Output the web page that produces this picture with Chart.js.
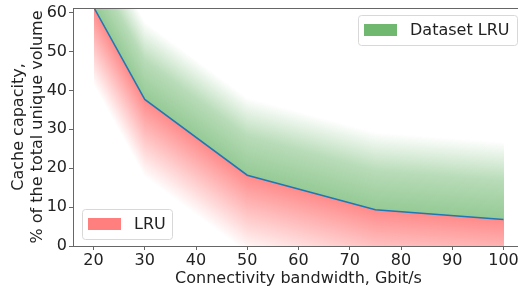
<!DOCTYPE html>
<html>
<head>
<meta charset="utf-8">
<script src="https://cdn.jsdelivr.net/npm/chart.js@4.4.1/dist/chart.umd.min.js"></script>
<style>
  html, body { margin: 0; padding: 0; background: #fff; overflow: hidden; }
  #wrap { width: 518px; height: 288px; overflow: hidden; }
</style>
</head>
<body>
<div id="wrap"><canvas id="chart" width="528" height="288"></canvas></div>
<script>
// data
const bandwidth = [20, 30, 50, 75, 100];
const lruCapacity = [61.5, 37.7, 18.2, 9.3, 6.8];
const xTicks = [20, 30, 40, 50, 60, 70, 80, 90, 100];
const yTicks = [0, 10, 20, 30, 40, 50, 60];
const upperLabel = 'Dataset LRU';
const lowerLabel = 'LRU';

const FONT = 'DejaVu Sans';
const AXIS = '#666';
const TEXT = '#222';
const FADE = 20; // y units over which the shading fades to white

// gradient bands above (green) and below (red) the LRU line
const shading = {
  id: 'shading',
  beforeDatasetsDraw(chart) {
    const pts = chart.getDatasetMeta(0).data;
    const { ctx, chartArea: a, scales: { y } } = chart;
    const h = y.getPixelForValue(0) - y.getPixelForValue(FADE);
    ctx.save();
    ctx.beginPath();
    ctx.rect(a.left, a.top, a.right - a.left, a.bottom - a.top);
    ctx.clip();
    const x0 = Math.round(pts[0].x), x1 = Math.round(pts[pts.length - 1].x);
    let seg = 0;
    for (let px = x0; px < x1; px++) {
      const cx = px + 0.5;
      while (seg < pts.length - 2 && cx > pts[seg + 1].x) seg++;
      const p = pts[seg], q = pts[seg + 1];
      const ly = p.y + (cx - p.x) / (q.x - p.x) * (q.y - p.y);

      const g = ctx.createLinearGradient(0, ly, 0, ly - h);
      g.addColorStop(0, 'rgba(0,128,0,0.42)');
      g.addColorStop(0.5, 'rgba(0,128,0,0.28)');
      g.addColorStop(1, 'rgba(0,128,0,0)');
      ctx.fillStyle = g;
      ctx.fillRect(px, ly - h, 1, h);

      const r = ctx.createLinearGradient(0, ly, 0, ly + h);
      r.addColorStop(0, 'rgba(255,0,0,0.46)');
      r.addColorStop(1, 'rgba(255,0,0,0)');
      ctx.fillStyle = r;
      ctx.fillRect(px, ly, 1, h);
    }
    ctx.restore();
  }
};

function drawLegend(ctx, x, y, w, h, label, color) {
  ctx.save();
  ctx.beginPath();
  ctx.roundRect(x + 0.5, y + 0.5, w, h, 3);
  ctx.fillStyle = 'rgba(255,255,255,0.8)';
  ctx.fill();
  ctx.strokeStyle = '#d8d8d8';
  ctx.lineWidth = 1;
  ctx.stroke();
  ctx.fillStyle = color;
  ctx.fillRect(x + 6, y + h / 2 - 6, 33, 12);
  ctx.fillStyle = TEXT;
  ctx.font = '16px "' + FONT + '"';
  ctx.textBaseline = 'middle';
  ctx.fillText(label, x + 52, y + h / 2 + 1);
  ctx.restore();
}

const extras = {
  id: 'extras',
  afterDraw(chart) {
    const { ctx, chartArea: a } = chart;
    ctx.save();
    ctx.strokeStyle = AXIS;
    ctx.lineWidth = 1;
    ctx.beginPath();
    ctx.moveTo(a.left, a.top + 0.5);
    ctx.lineTo(a.right, a.top + 0.5);
    ctx.stroke();
    ctx.restore();
    drawLegend(ctx, 358, 15, 159, 30, upperLabel, 'rgba(0,128,0,0.56)');
    drawLegend(ctx, 82, 209, 90, 30, lowerLabel, 'rgba(255,0,0,0.5)');
  }
};

const tickFont = { family: FONT, size: 16 };

new Chart(document.getElementById('chart'), {
  type: 'line',
  data: {
    datasets: [{
      label: lowerLabel,
      data: bandwidth.map((b, i) => ({ x: b, y: lruCapacity[i] })),
      borderColor: '#1f77b4',
      borderWidth: 1.5,
      pointRadius: 0,
      fill: false,
      tension: 0
    }]
  },
  options: {
    responsive: false,
    animation: false,
    layout: { padding: { top: 8, right: 4, left: 0, bottom: 0 } },
    plugins: { legend: { display: false }, tooltip: { enabled: false } },
    scales: {
      x: {
        type: 'linear',
        min: 16,
        max: 104,
        afterBuildTicks: s => { s.ticks = xTicks.map(v => ({ value: v })); },
        afterFit: s => { s.height = 42; s.paddingLeft = 0; s.paddingRight = 0; },
        grid: { drawOnChartArea: false, drawTicks: true, tickLength: 4, color: AXIS },
        border: { color: AXIS, width: 1 },
        ticks: { font: tickFont, color: TEXT, padding: 1, maxRotation: 0, autoSkip: false },
        title: {
          display: true, text: 'Connectivity bandwidth, Gbit/s',
          font: tickFont, color: TEXT, padding: { top: 0, bottom: 0 }
        }
      },
      y: {
        min: 0,
        max: 61.2,
        afterBuildTicks: s => { s.ticks = yTicks.map(v => ({ value: v })); },
        afterFit: s => { s.width = 73; s.paddingTop = 0; s.paddingBottom = 0; },
        grid: { drawOnChartArea: false, drawTicks: true, tickLength: 4, color: AXIS },
        border: { color: AXIS, width: 1 },
        ticks: { font: tickFont, color: TEXT, padding: 2, autoSkip: false },
        title: {
          display: true, text: ['Cache capacity,', '% of the total unique volume'],
          font: tickFont, color: TEXT, padding: { top: 9, bottom: 0 }
        }
      }
    }
  },
  plugins: [shading, extras]
});
</script>
</body>
</html>
